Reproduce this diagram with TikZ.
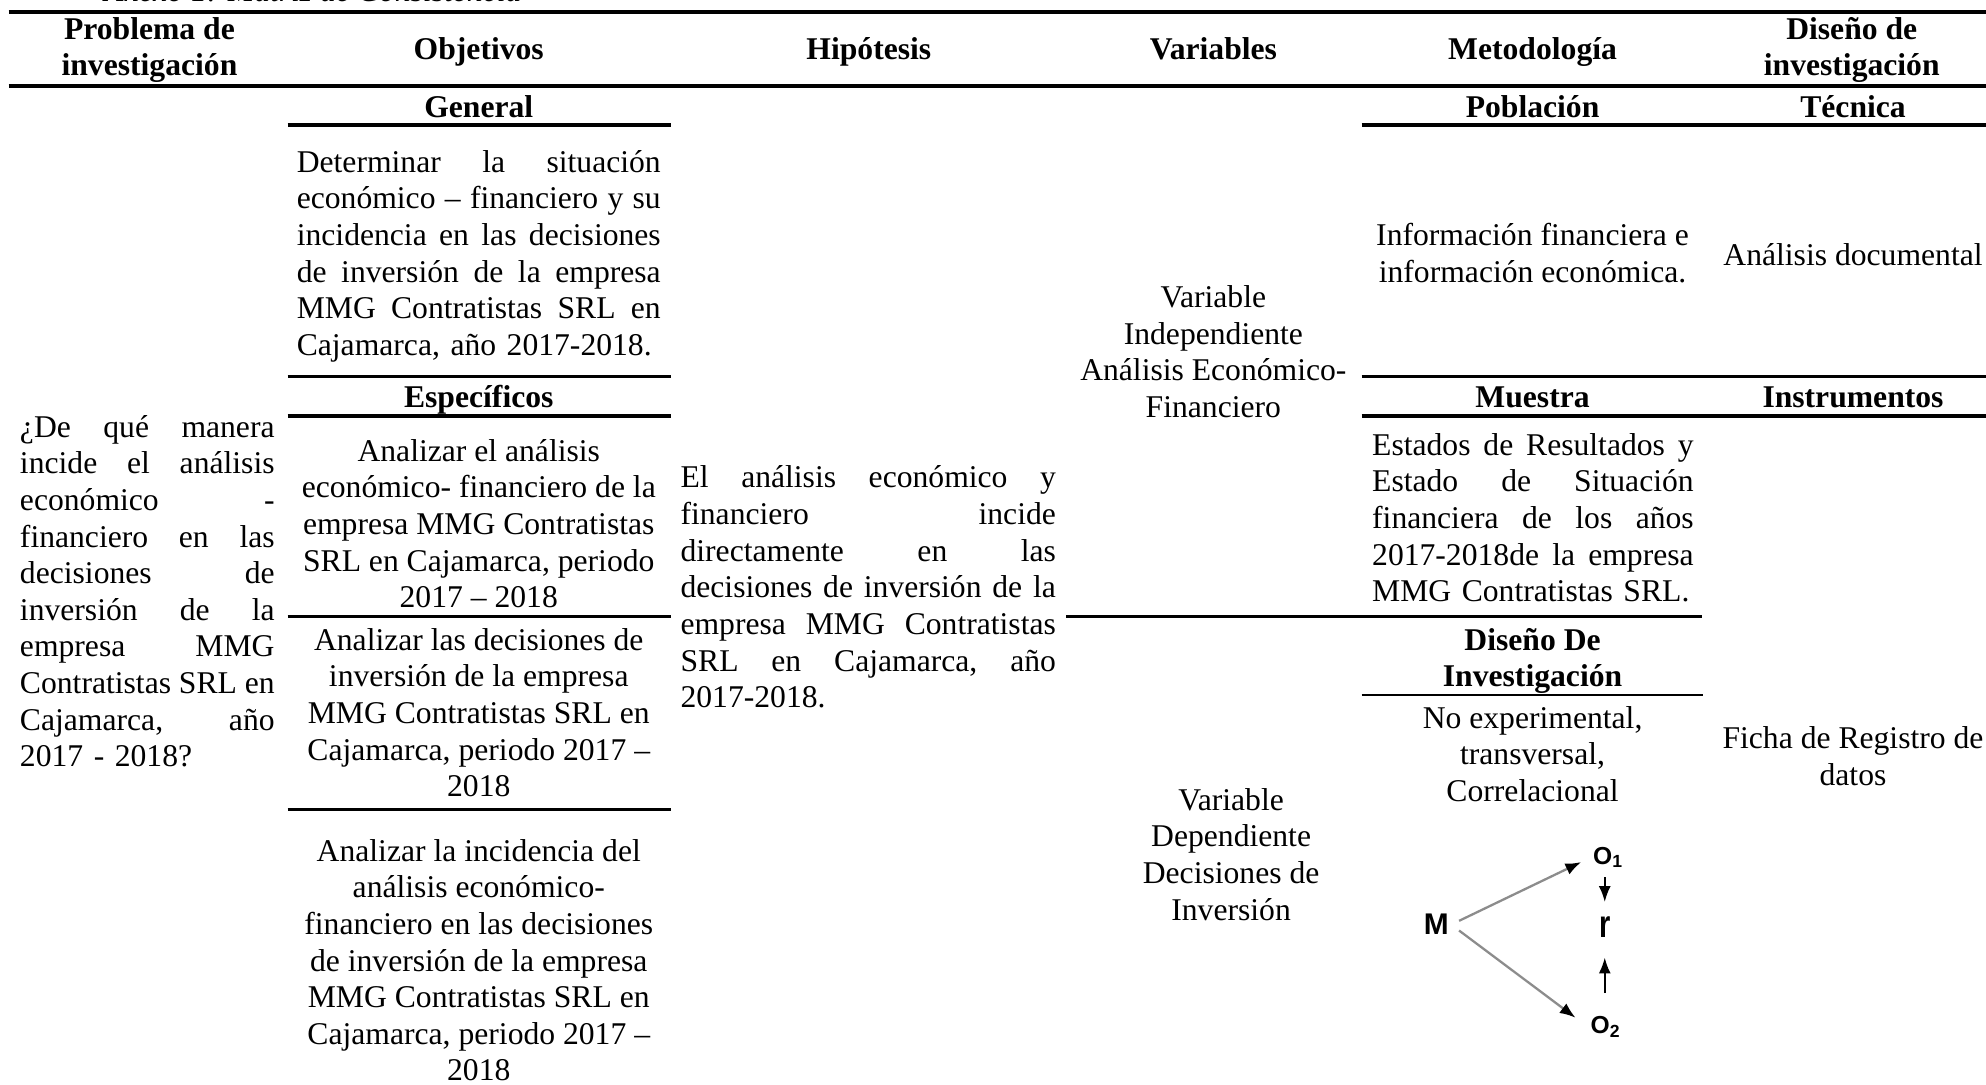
\documentclass[tikz,border=0pt]{standalone}
\usepackage{fontspec}
\setmainfont{Liberation Serif}
\newfontfamily\diagfont{Liberation Sans}
\usetikzlibrary{arrows.meta}
\def\jw{2cm}
\def\jl#1{\leavevmode\hbox to \jw{\frenchspacing\spaceskip=0.25em plus 1fil minus 0.08em\relax #1}}
\tikzset{
	cell/.style={inner sep=0pt, font=\fontsize{9}{10.43}\selectfont, execute at begin node=\strut, execute at end node=\strut},
	head/.style={cell, font=\fontsize{9}{10.43}\selectfont\bfseries, align=center},
	mid/.style={cell, align=center},
	just/.style={cell, align=left, text width=#1, /utils/exec={\def\jw{#1}}},
	toprule/.style={line width=1.2pt},
	subrule/.style={line width=0.95pt},
	thinrule/.style={line width=0.75pt},
	diag/.style={inner sep=0.5pt, font=\diagfont\bfseries\fontsize{8.5}{9}\selectfont},
	diagarrow/.style={draw=black!45, line width=0.65pt, -{Latex[length=4.5pt,width=3.4pt,color=black]}},
	vertarrow/.style={draw=black, line width=0.55pt, -{Latex[length=4.5pt,width=3.4pt]}}
}

\begin{document}
\begin{tikzpicture}[x=0.012666cm, y=-0.012666cm]
			\useasboundingbox (0,0) rectangle (1568,856);
			%%%%% START %%%%%
			\node[cell, font=\fontsize{9}{10.43}\selectfont\itshape, anchor=base west] (title) at (81.6, 1.0) {Anexo 1: Matriz de Consistencia};
			
			% header row
			\draw[toprule] (6.8, 9.2) -- (1568, 9.2);
			\node[head] (hdrProb) at (118, 41) {Problema de\\investigación};
			\node[head] (hdrObj) at (378, 41) {Objetivos};
			\node[head] (hdrHip) at (686, 41) {Hipótesis};
			\node[head] (hdrVar) at (958, 41) {Variables};
			\node[head] (hdrMet) at (1210, 41) {Metodología};
			\node[head] (hdrDis) at (1462, 41) {Diseño de\\investigación};
			\draw[toprule] (6.8, 67.9) -- (1568, 67.9);
			
			% sub heads
			\node[head] (subGen) at (378, 86.7) {General};
			\node[head] (subPob) at (1210, 86.7) {Población};
			\node[head] (subTec) at (1463, 86.7) {Técnica};
			\draw[subrule] (227, 98.7) -- (530, 98.7);
			\draw[subrule] (1075, 98.7) -- (1568, 98.7);
			
			\node[just=3.639cm] (txtGen) at (378, 202.5) {\jl{Determinar la situación}\\\jl{económico – financiero y su}\\\jl{incidencia en las decisiones}\\\jl{de inversión de la empresa}\\\jl{MMG Contratistas SRL en}\\Cajamarca, año 2017-2018.};
			\node[mid] (txtPob) at (1210, 204) {Información financiera e\\información económica.};
			\node[mid] (txtTec) at (1463, 204) {Análisis documental};
			\node[mid] (txtVarInd) at (958, 282) {Variable\\Independiente\\Análisis Económico-\\Financiero};
			
			\draw[subrule] (227, 297.2) -- (530, 297.2);
			\draw[subrule] (1075, 297.2) -- (1568, 297.2);
			\node[head] (subEsp) at (378, 316) {Específicos};
			\node[head] (subMue) at (1210, 316) {Muestra};
			\node[head] (subIns) at (1463, 316) {Instrumentos};
			\draw[subrule] (227, 328.3) -- (530, 328.3);
			\draw[subrule] (1075, 328.3) -- (1568, 328.3);
			
			% body
			\node[just=2.546cm] (txtProb) at (116.3, 469.5) {\jl{¿De qué manera}\\\jl{incide el análisis}\\\jl{económico -}\\\jl{financiero en las}\\\jl{decisiones de}\\\jl{inversión de la}\\\jl{empresa MMG}\\\jl{Contratistas SRL en}\\\jl{Cajamarca, año}\\2017 - 2018?};
			\node[mid] (txtEspA) at (378, 417.7) {Analizar el análisis\\económico- financiero de la\\empresa MMG Contratistas\\SRL en Cajamarca, periodo\\2017 – 2018};
			\node[just=3.753cm] (txtHip) at (685.5, 466.2) {\jl{El análisis económico y}\\\jl{financiero incide}\\\jl{directamente en las}\\\jl{decisiones de inversión de la}\\\jl{empresa MMG Contratistas}\\\jl{SRL en Cajamarca, año}\\2017-2018.};
			\node[just=3.215cm] (txtMue) at (1210.3, 411.5) {\jl{Estados de Resultados y}\\\jl{Estado de Situación}\\\jl{financiera de los años}\\\jl{2017-2018de la empresa}\\MMG Contratistas SRL.};
			
			\draw[thinrule] (227, 486.9) -- (530, 486.9);
			\draw[subrule] (842, 486.9) -- (1344, 486.9);
			
			\node[mid] (txtEspB) at (378, 567) {Analizar las decisiones de\\inversión de la empresa\\MMG Contratistas SRL en\\Cajamarca, periodo 2017 –\\2018};
			\node[head] (subDisInv) at (1210, 523.5) {Diseño De\\Investigación};
			\draw[thinrule] (1075, 548.7) -- (1344.6, 548.7);
			\node[mid] (txtDisInv) at (1210, 599.5) {No experimental,\\transversal,\\Correlacional};
			\node[mid] (txtFicha) at (1463, 601) {Ficha de Registro de\\datos};
			
			\draw[thinrule] (227, 639) -- (530, 639);
			\node[mid] (txtEspC) at (378, 762.3) {Analizar la incidencia del\\análisis económico-\\financiero en las decisiones\\de inversión de la empresa\\MMG Contratistas SRL en\\Cajamarca, periodo 2017 –\\2018};
			\node[mid] (txtVarDep) at (972, 678.7) {Variable\\Dependiente\\Decisiones de\\Inversión};
			
			% design scheme
			\node[diag] (M) at (1134, 730) {M};
			\node[diag, font=\diagfont\bfseries\fontsize{7}{8}\selectfont] (O1) at (1270, 677) {O\textsubscript{1}};
			\node[diag, font=\diagfont\bfseries\fontsize{7}{8}\selectfont] (O2) at (1268, 811) {O\textsubscript{2}};
			\node[diag, font=\diagfont\bfseries\fontsize{11}{12}\selectfont, xscale=0.75] (r) at (1267, 732) {r};
			\draw[diagarrow, shorten <=2.5pt, shorten >=3pt] (M.east) -- (O1.west);
			\draw[diagarrow, shorten <=2.8pt, shorten >=4.5pt] (M.east) -- (O2.west);
			\draw[vertarrow, shorten <=2pt, shorten >=3.5pt] (O1.south -| r.north) -- (r.north);
			\draw[vertarrow, shorten <=6pt, shorten >=5pt] (O2.north -| r.south) -- (r.south);
			%%%%% END %%%%%
		\end{tikzpicture}
\end{document}
